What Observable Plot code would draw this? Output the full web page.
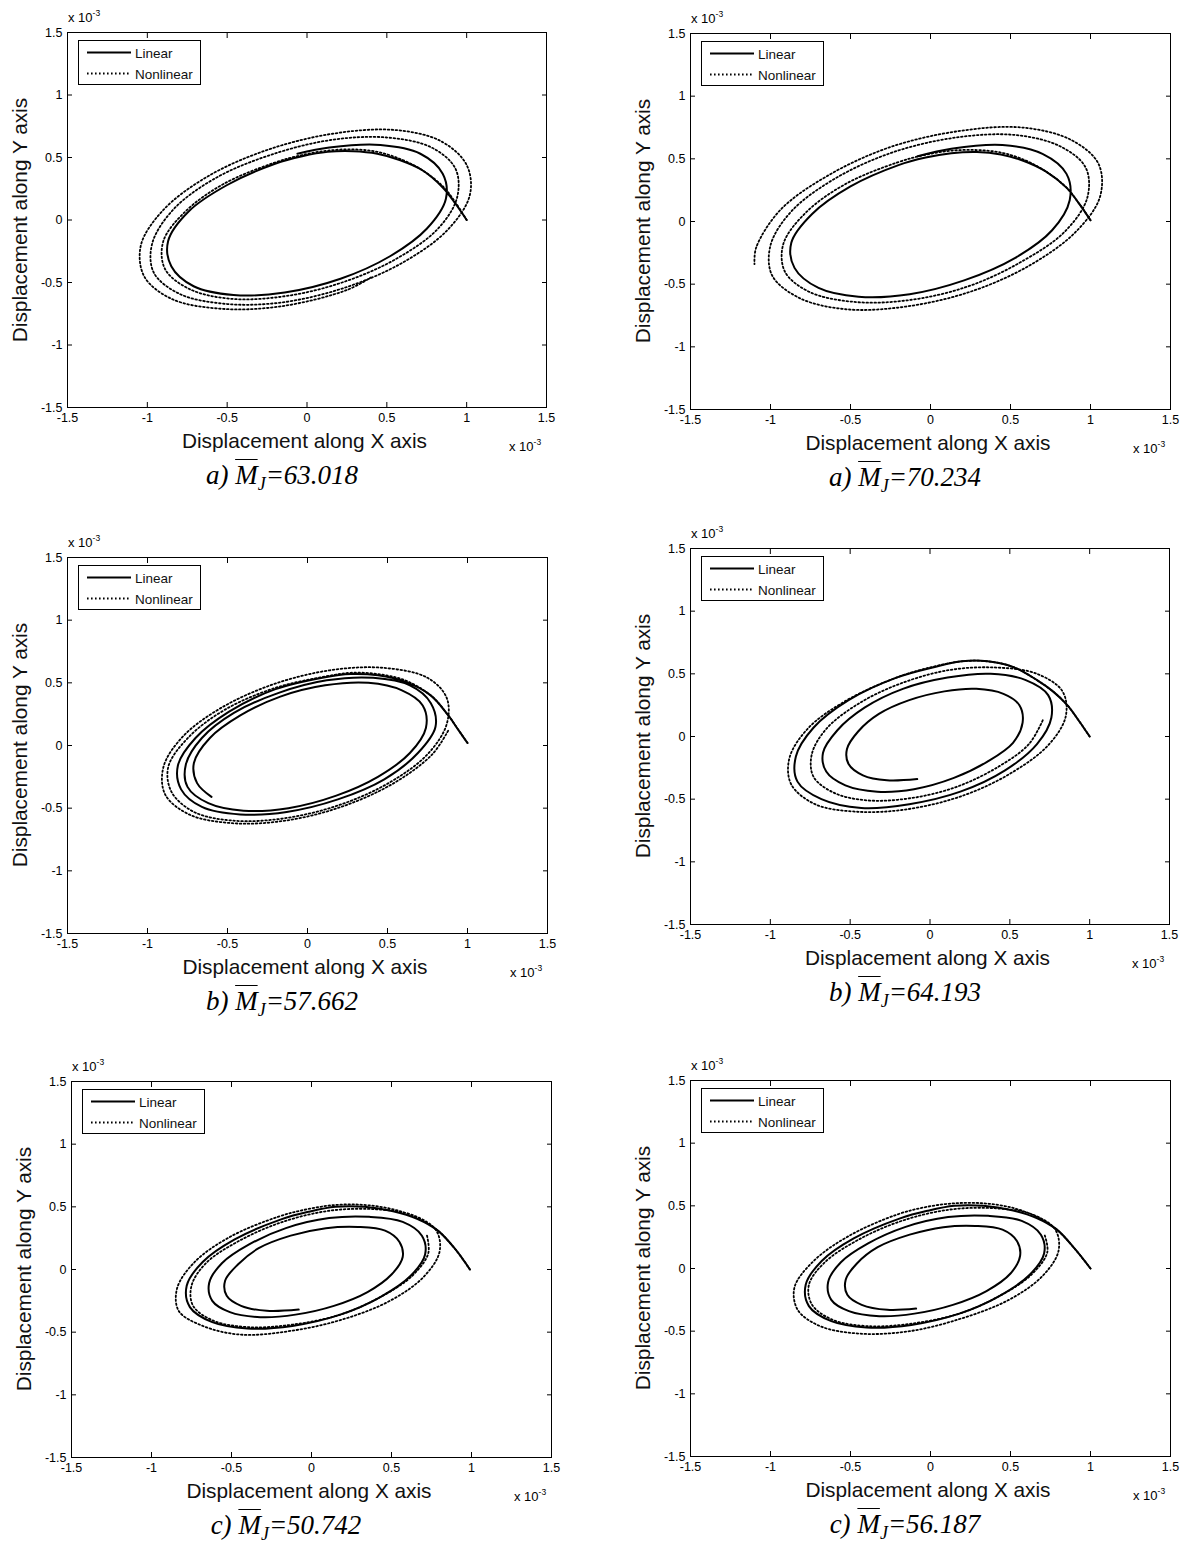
<!DOCTYPE html>
<html><head><meta charset="utf-8">
<script src="https://cdn.jsdelivr.net/npm/d3@7"></script>
<script src="https://cdn.jsdelivr.net/npm/@observablehq/plot@0.6"></script>
<style>
body{margin:0;background:#fff;}
#page{position:relative;width:1190px;height:1546px;overflow:hidden;font-family:"Liberation Sans",Arial,sans-serif;color:#000;}
.abs{position:absolute;white-space:nowrap;}
.xl{font-size:20.8px;text-align:center;width:400px;line-height:24px;color:#111;}
.yl{font-size:20.8px;text-align:center;width:400px;line-height:24px;transform:rotate(-90deg);color:#111;}
.ex{font-size:13px;line-height:14px;}
.ex sup{font-size:8.5px;vertical-align:6px;line-height:0;}
.cap{font-family:"Liberation Serif","Times New Roman",serif;font-style:italic;font-size:27px;text-align:center;width:300px;line-height:30px;}
.cap sub{font-size:18px;vertical-align:-6px;line-height:0;}
.ovl{text-decoration:overline;text-decoration-thickness:1.3px;}
.leg{border:1px solid #000;background:#fff;width:121px;height:43px;}
</style></head><body><div id="page"></div>
<script>
const xTicks = [-1.5, -1, -0.5, 0, 0.5, 1, 1.5];
const yTicks = [-1.5, -1, -0.5, 0, 0.5, 1, 1.5];
const tickLabels = ["-1.5", "-1", "-0.5", "0", "0.5", "1", "1.5"];
const seriesNames = ["Linear", "Nonlinear"];
const xTitle = "Displacement along X axis";
const yTitle = "Displacement along Y axis";
const panelTags = ["a)", "a)", "b)", "b)", "c)", "c)"];
const mjValues = ["63.018", "70.234", "57.662", "64.193", "50.742", "56.187"];

// values in units of 1e-3
const linearA = [[1.0,0.0],[0.93,0.13],[0.85,0.26],[0.72,0.40],[0.58,0.48],[0.44,0.53],[0.29,0.55],[0.13,0.545],[-0.03,0.51],[-0.20,0.45],[-0.50,0.28],[-0.74,0.07],[-0.87,-0.17],[-0.85,-0.37],[-0.71,-0.53],[-0.46,-0.60],[-0.14,-0.58],[0.21,-0.47],[0.52,-0.29],[0.75,-0.07],[0.87,0.17],[0.85,0.37],[0.71,0.53],[0.46,0.60],[0.14,0.58],[-0.06,0.53]];
const nonlinearA = [[1.0,0.0],[0.93,0.14],[0.85,0.27],[0.72,0.40],[0.58,0.49],[0.44,0.545],[0.29,0.565],[0.13,0.555],[-0.03,0.52],[-0.20,0.46],[-0.52,0.29],[-0.76,0.07],[-0.90,-0.17],[-0.89,-0.39],[-0.74,-0.55],[-0.48,-0.63],[-0.14,-0.61],[0.22,-0.50],[0.56,-0.31],[0.82,-0.07],[0.94,0.18],[0.93,0.41],[0.78,0.58],[0.50,0.66],[0.15,0.64],[-0.23,0.52],[-0.58,0.33],[-0.84,0.08],[-0.97,-0.19],[-0.96,-0.42],[-0.80,-0.59],[-0.52,-0.67],[-0.16,-0.66],[0.24,-0.54],[0.60,-0.34],[0.88,-0.08],[1.02,0.20],[1.00,0.44],[0.84,0.63],[0.55,0.72],[0.16,0.69],[-0.25,0.56],[-0.62,0.35],[-0.90,0.08],[-1.04,-0.20],[-1.02,-0.45],[-0.85,-0.63],[-0.54,-0.71],[-0.16,-0.69],[0.25,-0.56],[0.40,-0.46]];
const linearA2 = [[1.0,0.01],[0.93,0.14],[0.85,0.27],[0.72,0.40],[0.58,0.485],[0.44,0.535],[0.29,0.555],[0.13,0.545],[-0.03,0.51],[-0.20,0.45],[-0.50,0.28],[-0.74,0.06],[-0.87,-0.17],[-0.85,-0.37],[-0.70,-0.53],[-0.45,-0.60],[-0.13,-0.58],[0.21,-0.47],[0.53,-0.29],[0.76,-0.07],[0.87,0.17],[0.85,0.38],[0.70,0.54],[0.45,0.61],[0.13,0.58],[-0.08,0.52]];
const nonlinearA2 = [[1.0,0.01],[0.93,0.14],[0.85,0.27],[0.72,0.40],[0.58,0.495],[0.44,0.55],[0.29,0.57],[0.13,0.565],[-0.04,0.53],[-0.21,0.47],[-0.53,0.30],[-0.78,0.07],[-0.92,-0.18],[-0.91,-0.40],[-0.76,-0.56],[-0.49,-0.64],[-0.15,-0.63],[0.23,-0.52],[0.57,-0.32],[0.84,-0.08],[0.98,0.19],[0.97,0.43],[0.81,0.60],[0.53,0.69],[0.16,0.67],[-0.24,0.55],[-0.60,0.34],[-0.87,0.08],[-1.00,-0.19],[-0.99,-0.43],[-0.82,-0.61],[-0.53,-0.70],[-0.16,-0.68],[0.25,-0.56],[0.62,-0.35],[0.91,-0.08],[1.06,0.20],[1.05,0.46],[0.88,0.65],[0.57,0.75],[0.17,0.72],[-0.26,0.59],[-0.65,0.36],[-0.94,0.09],[-1.09,-0.21],[-1.10,-0.34]];
const linearB = [[1.0,0.02],[0.94,0.13],[0.88,0.24],[0.77,0.40],[0.61,0.51],[0.44,0.56],[0.27,0.57],[0.11,0.545],[-0.20,0.45],[-0.49,0.27],[-0.70,0.06],[-0.81,-0.16],[-0.79,-0.35],[-0.66,-0.49],[-0.42,-0.55],[-0.13,-0.53],[0.19,-0.43],[0.48,-0.27],[0.69,-0.06],[0.80,0.15],[0.77,0.34],[0.64,0.48],[0.41,0.54],[0.12,0.52],[-0.18,0.42],[-0.46,0.26],[-0.66,0.06],[-0.76,-0.15],[-0.75,-0.33],[-0.62,-0.46],[-0.40,-0.52],[-0.12,-0.50],[0.18,-0.40],[0.44,-0.25],[0.64,-0.06],[0.74,0.14],[0.72,0.32],[0.59,0.44],[0.38,0.50],[0.11,0.48],[-0.17,0.39],[-0.42,0.24],[-0.61,0.06],[-0.71,-0.14],[-0.69,-0.30],[-0.60,-0.41]];
const nonlinearB = [[1.0,0.02],[0.94,0.13],[0.88,0.24],[0.77,0.40],[0.61,0.52],[0.44,0.57],[0.27,0.58],[0.11,0.55],[-0.20,0.46],[-0.51,0.29],[-0.74,0.07],[-0.87,-0.17],[-0.85,-0.37],[-0.71,-0.53],[-0.46,-0.60],[-0.14,-0.58],[0.21,-0.47],[0.52,-0.29],[0.75,-0.07],[0.87,0.17],[0.87,0.38],[0.75,0.54],[0.47,0.62],[0.14,0.60],[-0.21,0.49],[-0.54,0.30],[-0.78,0.07],[-0.90,-0.17],[-0.89,-0.39],[-0.74,-0.55],[-0.47,-0.62],[-0.14,-0.60],[0.21,-0.49],[0.54,-0.30],[0.78,-0.07],[0.88,0.12]];
const linearB2 = [[1.0,0.0],[0.93,0.13],[0.86,0.25],[0.77,0.36],[0.67,0.45],[0.52,0.555],[0.36,0.60],[0.20,0.60],[0.03,0.555],[-0.21,0.47],[-0.51,0.29],[-0.73,0.07],[-0.84,-0.16],[-0.83,-0.36],[-0.68,-0.50],[-0.43,-0.57],[-0.13,-0.54],[0.19,-0.44],[0.47,-0.27],[0.67,-0.06],[0.76,0.15],[0.74,0.33],[0.60,0.45],[0.38,0.50],[0.11,0.47],[-0.17,0.38],[-0.41,0.23],[-0.58,0.05],[-0.67,-0.13],[-0.65,-0.28],[-0.53,-0.39],[-0.33,-0.44],[-0.10,-0.42],[0.15,-0.33],[0.36,-0.20],[0.52,-0.05],[0.58,0.11],[0.56,0.25],[0.46,0.34],[0.29,0.38],[0.09,0.36],[-0.13,0.29],[-0.32,0.18],[-0.45,0.04],[-0.52,-0.10],[-0.51,-0.22],[-0.42,-0.31],[-0.27,-0.35],[-0.08,-0.34]];
const nonlinearB2 = [[1.0,0.0],[0.93,0.13],[0.86,0.25],[0.77,0.36],[0.67,0.45],[0.52,0.555],[0.36,0.60],[0.20,0.60],[0.03,0.56],[-0.21,0.47],[-0.52,0.29],[-0.76,0.07],[-0.88,-0.17],[-0.87,-0.38],[-0.72,-0.54],[-0.46,-0.60],[-0.14,-0.58],[0.21,-0.47],[0.51,-0.29],[0.74,-0.07],[0.85,0.16],[0.83,0.36],[0.67,0.50],[0.42,0.55],[0.12,0.53],[-0.19,0.42],[-0.45,0.26],[-0.65,0.06],[-0.74,-0.14],[-0.73,-0.32],[-0.60,-0.45],[-0.39,-0.51],[-0.11,-0.49],[0.17,-0.40],[0.43,-0.24],[0.62,-0.06],[0.71,0.14]];
const linearC = [[0.99,0.0],[0.90,0.16],[0.79,0.31],[0.66,0.405],[0.51,0.465],[0.33,0.50],[0.15,0.50],[-0.02,0.46],[-0.19,0.40],[-0.48,0.24],[-0.68,0.06],[-0.78,-0.13],[-0.76,-0.30],[-0.62,-0.42],[-0.40,-0.47],[-0.12,-0.45],[0.18,-0.36],[0.43,-0.22],[0.62,-0.05],[0.71,0.12],[0.69,0.27],[0.57,0.38],[0.36,0.42],[0.11,0.41],[-0.16,0.33],[-0.39,0.20],[-0.56,0.05],[-0.64,-0.11],[-0.62,-0.25],[-0.51,-0.34],[-0.32,-0.38],[-0.10,-0.36],[0.14,-0.29],[0.35,-0.18],[0.50,-0.04],[0.57,0.10],[0.55,0.22],[0.46,0.31],[0.29,0.34],[0.09,0.33],[-0.13,0.27],[-0.33,0.17],[-0.46,0.04],[-0.54,-0.09],[-0.53,-0.21],[-0.44,-0.29],[-0.28,-0.33],[-0.08,-0.32]];
const nonlinearC = [[0.99,0.0],[0.90,0.16],[0.79,0.31],[0.66,0.415],[0.51,0.48],[0.33,0.515],[0.15,0.515],[-0.03,0.48],[-0.21,0.42],[-0.51,0.26],[-0.73,0.06],[-0.84,-0.15],[-0.83,-0.33],[-0.68,-0.45],[-0.44,-0.52],[-0.13,-0.49],[0.19,-0.40],[0.49,-0.25],[0.70,-0.06],[0.80,0.14],[0.78,0.31],[0.64,0.43],[0.41,0.48],[0.12,0.47],[-0.18,0.38],[-0.45,0.23],[-0.66,0.05],[-0.75,-0.13],[-0.74,-0.29],[-0.61,-0.41],[-0.39,-0.46],[-0.12,-0.44],[0.18,-0.36],[0.43,-0.22],[0.63,-0.05],[0.73,0.13],[0.72,0.28]];
const linearC2 = [[1.0,0.0],[0.90,0.16],[0.79,0.31],[0.66,0.405],[0.51,0.465],[0.33,0.50],[0.15,0.50],[-0.02,0.46],[-0.19,0.40],[-0.48,0.24],[-0.68,0.06],[-0.78,-0.13],[-0.76,-0.30],[-0.62,-0.42],[-0.40,-0.47],[-0.12,-0.45],[0.18,-0.36],[0.43,-0.22],[0.62,-0.05],[0.71,0.12],[0.69,0.27],[0.57,0.38],[0.36,0.42],[0.11,0.41],[-0.16,0.33],[-0.39,0.20],[-0.56,0.05],[-0.64,-0.11],[-0.62,-0.25],[-0.51,-0.34],[-0.32,-0.38],[-0.10,-0.36],[0.14,-0.29],[0.35,-0.18],[0.50,-0.04],[0.56,0.10],[0.54,0.22],[0.45,0.31],[0.28,0.34],[0.08,0.33],[-0.13,0.27],[-0.33,0.17],[-0.46,0.04],[-0.53,-0.09],[-0.52,-0.21],[-0.43,-0.29],[-0.27,-0.33],[-0.09,-0.32]];
const nonlinearC2 = [[1.0,0.0],[0.90,0.16],[0.79,0.31],[0.66,0.415],[0.51,0.485],[0.33,0.52],[0.15,0.52],[-0.03,0.49],[-0.21,0.43],[-0.51,0.26],[-0.73,0.06],[-0.85,-0.15],[-0.83,-0.33],[-0.69,-0.46],[-0.44,-0.52],[-0.13,-0.50],[0.19,-0.40],[0.49,-0.25],[0.70,-0.06],[0.80,0.14],[0.78,0.31],[0.64,0.43],[0.41,0.48],[0.12,0.47],[-0.18,0.38],[-0.45,0.23],[-0.66,0.05],[-0.76,-0.13],[-0.74,-0.29],[-0.61,-0.41],[-0.39,-0.46],[-0.12,-0.44],[0.18,-0.36],[0.43,-0.22],[0.63,-0.05],[0.73,0.13],[0.71,0.28]];

const linearSets = [linearA, linearA2, linearB, linearB2, linearC, linearC2];
const nonlinearSets = [nonlinearA, nonlinearA2, nonlinearB, nonlinearB2, nonlinearC, nonlinearC2];

// layout: plot frame edges in page pixels
const frames = [
  {l: 67, r: 546, t: 32, b: 407},
  {l: 690, r: 1170, t: 33, b: 409},
  {l: 67, r: 547, t: 557, b: 933},
  {l: 690, r: 1169, t: 548, b: 924},
  {l: 71, r: 551, t: 1081, b: 1457},
  {l: 690, r: 1170, t: 1080, b: 1456}
];
const ML = 67, MR = 50, MT = 32, MB = 60;
const DOT = "1.6 2.4";
const page = document.getElementById("page");

function addDiv(cls, html, left, top) {
  const d = document.createElement("div");
  d.className = "abs " + cls;
  d.innerHTML = html;
  d.style.left = left + "px";
  d.style.top = top + "px";
  page.appendChild(d);
  return d;
}

frames.forEach((f, i) => {
  const fw = f.r - f.l, fh = f.b - f.t;
  const lab = d => tickLabels[xTicks.indexOf(d)];
  const chart = Plot.plot({
    width: ML + fw + MR, height: MT + fh + MB,
    marginLeft: ML, marginRight: MR, marginTop: MT, marginBottom: MB,
    x: {domain: [-1.5, 1.5]}, y: {domain: [-1.5, 1.5]},
    style: {fontFamily: "'Liberation Sans', Arial, sans-serif", fontSize: "12px", color: "#000", background: "transparent", overflow: "visible"},
    marks: [
      Plot.line(linearSets[i], {x: d => d[0], y: d => d[1], curve: "catmull-rom", stroke: "#000", strokeWidth: 2}),
      Plot.line(nonlinearSets[i], {x: d => d[0], y: d => d[1], curve: "catmull-rom", stroke: "#000", strokeWidth: 1.8, strokeDasharray: DOT}),
      Plot.frame({stroke: "#000", strokeWidth: 1}),
      Plot.axisX(xTicks, {anchor: "bottom", tickSize: -5, tickPadding: 11, tickFormat: lab, label: null, fontSize: 12.5}),
      Plot.axisX(xTicks, {anchor: "top", tickSize: -5, tickFormat: () => "", label: null}),
      Plot.axisY(yTicks, {anchor: "left", tickSize: -5, tickPadding: 10, tickFormat: lab, label: null, fontSize: 12.5}),
      Plot.axisY(yTicks, {anchor: "right", tickSize: -5, tickFormat: () => "", label: null})
    ]
  });
  chart.style.position = "absolute";
  chart.style.left = (f.l - ML) + "px";
  chart.style.top = (f.t - MT) + "px";
  page.appendChild(chart);

  // axis titles
  addDiv("xl", xTitle, (f.l + f.r) / 2 - 2 - 200, f.b + 34 - 12);
  addDiv("yl", yTitle, f.l - 47 - 200, (f.t + f.b) / 2 - 12);
  // exponent labels
  addDiv("ex", "x 10<sup>-3</sup>", f.l + 1, f.t - 21);
  addDiv("ex", "x 10<sup>-3</sup>", f.r - 37, f.b + 33);
  // legend
  const leg = addDiv("leg", "", f.l + 11, f.t + 8);
  leg.innerHTML = `<svg width="121" height="43" style="position:absolute;left:0;top:0">
    <line x1="8" x2="52" y1="11.5" y2="11.5" stroke="#000" stroke-width="2"/>
    <line x1="8" x2="52" y1="32.5" y2="32.5" stroke="#000" stroke-width="1.8" stroke-dasharray="${DOT}"/>
    <text x="56" y="16.5" font-size="13.5" font-family="Liberation Sans, Arial, sans-serif" fill="#111">${seriesNames[0]}</text>
    <text x="56" y="37.5" font-size="13.5" font-family="Liberation Sans, Arial, sans-serif" fill="#111">${seriesNames[1]}</text>
  </svg>`;
  // caption
  addDiv("cap", `${panelTags[i]} <span class="ovl">M</span><sub>J</sub>=${mjValues[i]}`, f.l + 215 - 150, f.b + 68 - 15);
});
</script>
</body></html>
